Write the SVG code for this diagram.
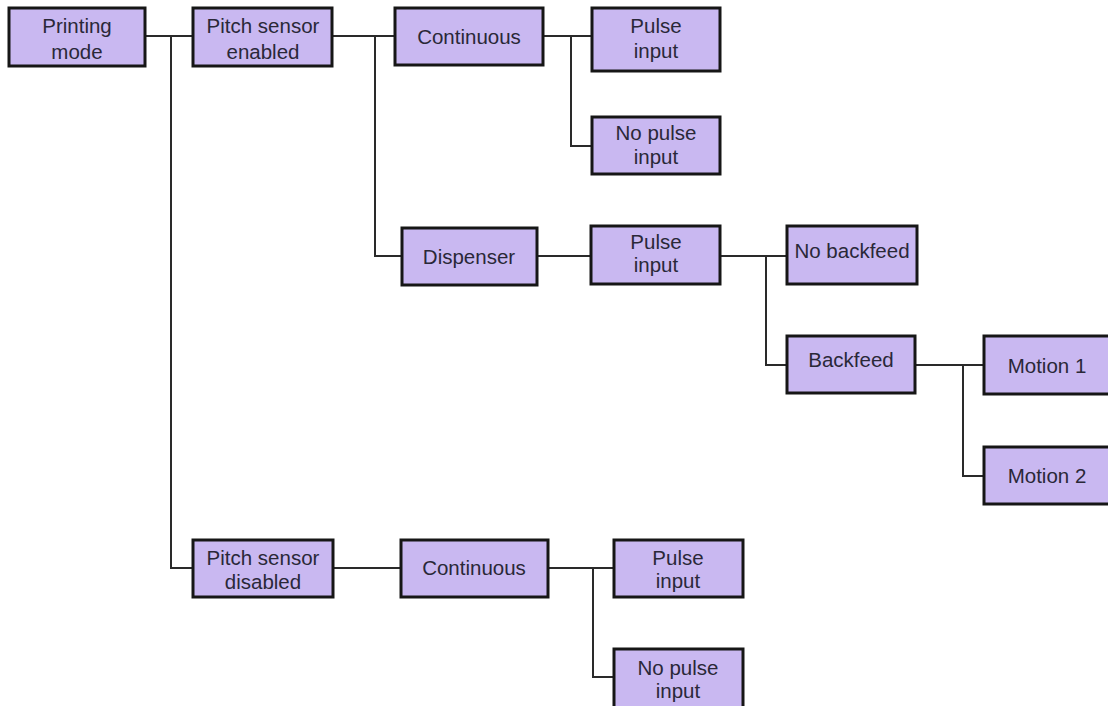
<svg xmlns="http://www.w3.org/2000/svg" width="1108" height="706" viewBox="0 0 1108 706">
<style>
.box{fill:#c9b8f1;stroke:#161616;stroke-width:3}
.t{font-family:"Liberation Sans",Arial,sans-serif;font-size:20.5px;fill:#2a2838;text-anchor:middle}
.c{fill:none;stroke:#2a2a2a;stroke-width:2}
</style>
<rect width="1108" height="706" fill="#ffffff"/>
<g id="connectors">
<path class="c" d="M145,36H193M171,36V568H193"/>
<path class="c" d="M332,36H395M375,36V256H402"/>
<path class="c" d="M543,36H592M571,36V146H592"/>
<path class="c" d="M537,256H591"/>
<path class="c" d="M720,256H787M766,256V365H787"/>
<path class="c" d="M915,365H984M963,365V476H984"/>
<path class="c" d="M333,568H401"/>
<path class="c" d="M548,568H614M593,568V677H614"/>
</g>
<g id="printing-mode"><rect class="box" x="9" y="8" width="136" height="58"/><text class="t" x="77" y="33">Printing</text><text class="t" x="77" y="59">mode</text></g>
<g id="pitch-enabled"><rect class="box" x="193" y="8" width="139" height="58"/><text class="t" x="263" y="33">Pitch sensor</text><text class="t" x="263" y="59">enabled</text></g>
<g id="continuous-1"><rect class="box" x="395" y="8" width="148" height="57"/><text class="t" x="469" y="44">Continuous</text></g>
<g id="pulse-1"><rect class="box" x="592" y="8" width="128" height="63"/><text class="t" x="656" y="33">Pulse</text><text class="t" x="656" y="58">input</text></g>
<g id="nopulse-1"><rect class="box" x="592" y="117" width="128" height="57"/><text class="t" x="656" y="140">No pulse</text><text class="t" x="656" y="164">input</text></g>
<g id="dispenser"><rect class="box" x="402" y="228" width="135" height="57"/><text class="t" x="469" y="264">Dispenser</text></g>
<g id="pulse-2"><rect class="box" x="591" y="226" width="129" height="58"/><text class="t" x="656" y="249">Pulse</text><text class="t" x="656" y="272">input</text></g>
<g id="no-backfeed"><rect class="box" x="787" y="226" width="130" height="58"/><text class="t" x="852" y="258">No backfeed</text></g>
<g id="backfeed"><rect class="box" x="787" y="336" width="128" height="57"/><text class="t" x="851" y="367">Backfeed</text></g>
<g id="motion-1"><rect class="box" x="984" y="336" width="130" height="58"/><text class="t" x="1047" y="373">Motion 1</text></g>
<g id="motion-2"><rect class="box" x="984" y="447" width="130" height="57"/><text class="t" x="1047" y="483">Motion 2</text></g>
<g id="pitch-disabled"><rect class="box" x="193" y="540" width="140" height="57"/><text class="t" x="263" y="565">Pitch sensor</text><text class="t" x="263" y="589">disabled</text></g>
<g id="continuous-2"><rect class="box" x="401" y="540" width="147" height="57"/><text class="t" x="474" y="575">Continuous</text></g>
<g id="pulse-3"><rect class="box" x="614" y="540" width="129" height="57"/><text class="t" x="678" y="565">Pulse</text><text class="t" x="678" y="588">input</text></g>
<g id="nopulse-3"><rect class="box" x="614" y="649" width="129" height="60"/><text class="t" x="678" y="675">No pulse</text><text class="t" x="678" y="698">input</text></g>
</svg>
